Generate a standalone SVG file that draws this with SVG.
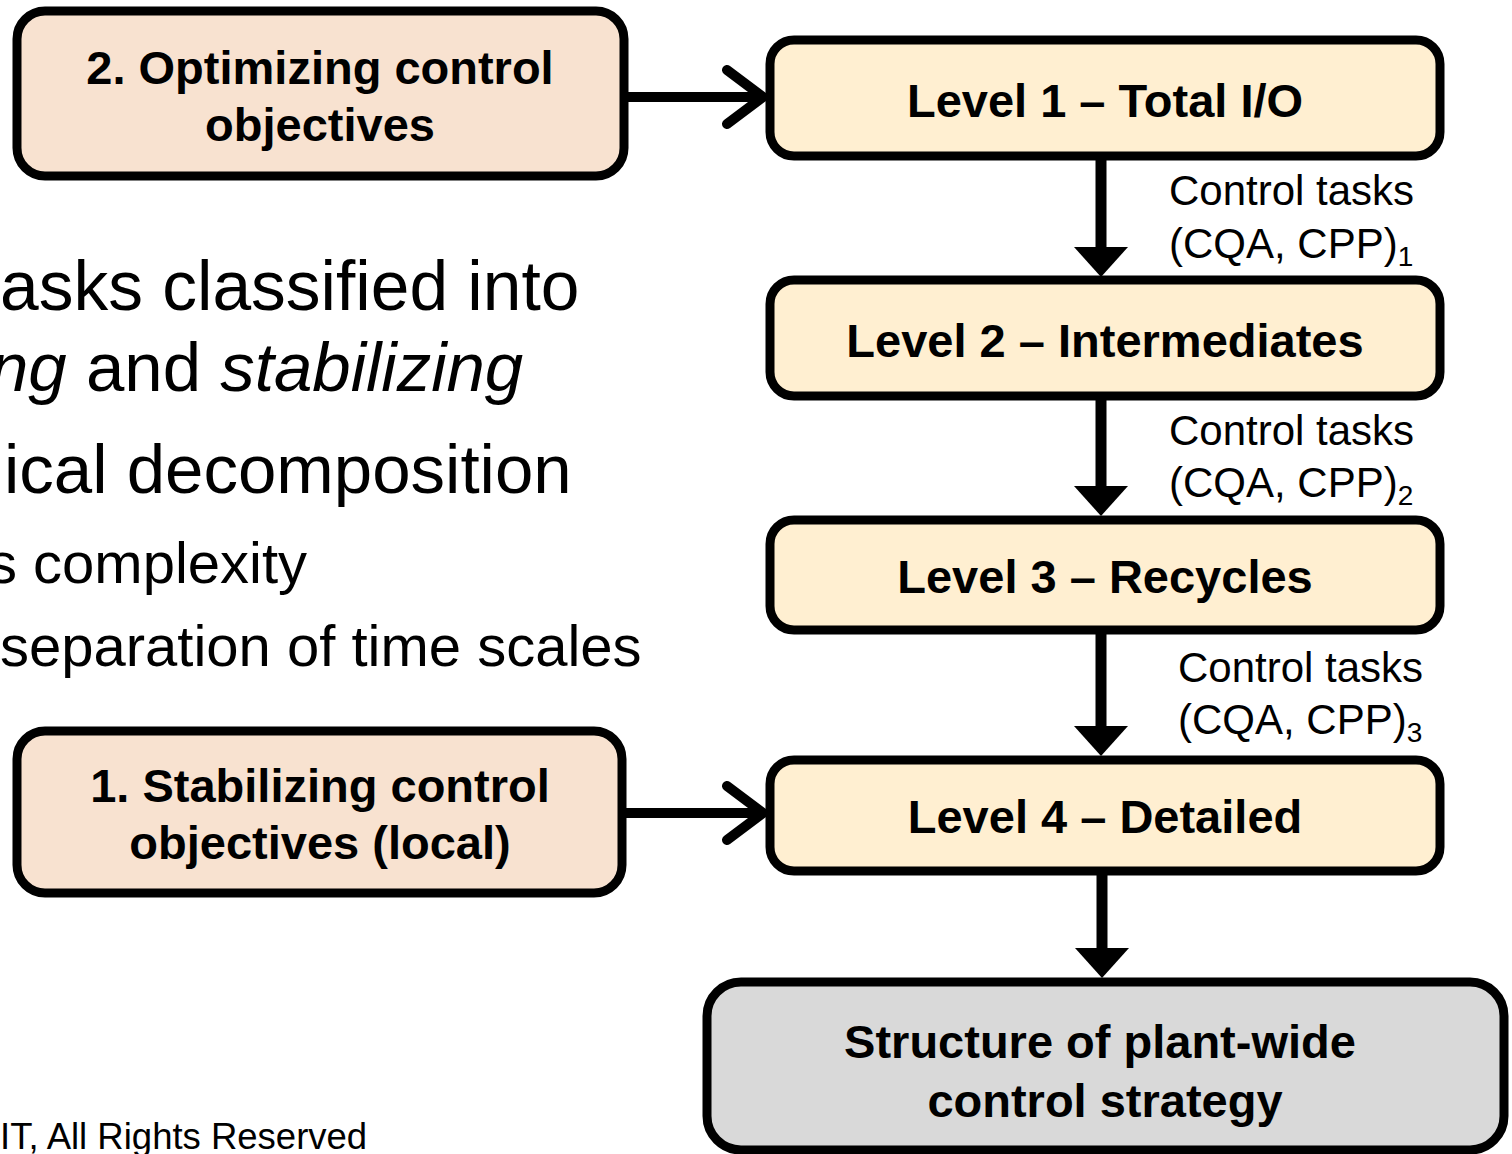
<svg xmlns="http://www.w3.org/2000/svg" width="1512" height="1154" viewBox="0 0 1512 1154">
  <style>
    .box { stroke: #000; stroke-width: 9; }
    .obj { fill: #F8E2D0; }
    .lvl { fill: #FFEFD1; }
    .out { fill: #D9D9D9; }
    .bold { font-family: "Liberation Sans", Arial, sans-serif; font-weight: bold; font-size: 47px; fill: #000; text-anchor: middle; }
    .lbl { font-family: "Liberation Sans", Arial, sans-serif; font-size: 42px; fill: #000; }
    .sub { font-size: 28px; }
    .body { font-family: "Liberation Sans", Arial, sans-serif; fill: #000; }
    .edge { stroke: #000; stroke-width: 11; fill: none; }
    .feed { stroke: #000; stroke-width: 10; fill: none; }
  </style>
  <defs>
    <marker id="tri" markerUnits="userSpaceOnUse" markerWidth="30" markerHeight="54" viewBox="0 0 30 54" refX="0" refY="27" orient="auto" overflow="visible">
      <path d="M0,0 L30,27 L0,54 Z" fill="#000"/>
    </marker>
    <marker id="chev" markerUnits="userSpaceOnUse" markerWidth="1" markerHeight="1" refX="0" refY="0" orient="auto" overflow="visible">
      <path d="M-33,-27 L3,0 L-33,27" fill="none" stroke="#000" stroke-width="10" stroke-linecap="round" stroke-linejoin="round"/>
    </marker>
  </defs>

  <!-- body text on the left, running off the left edge of the page -->
  <g id="bullets" class="body">
    <text x="0" y="310" font-size="69.5">asks classified into</text>
    <text x="-10" y="391" font-size="69"><tspan font-style="italic">ng</tspan> and <tspan font-style="italic">stabilizing</tspan></text>
    <text x="4" y="493" font-size="69">ical decomposition</text>
    <text x="-12" y="583" font-size="58">s complexity</text>
    <text x="0" y="666" font-size="58">separation of time scales</text>
    <text x="0" y="1149" font-size="36.5">IT, All Rights Reserved</text>
  </g>

  <!-- connectors -->
  <g id="connectors">
    <line class="feed" x1="626" y1="97" x2="760" y2="97" marker-end="url(#chev)"/>
    <line class="feed" x1="626" y1="813" x2="760" y2="813" marker-end="url(#chev)"/>
    <line class="edge" x1="1101" y1="160" x2="1101" y2="247" marker-end="url(#tri)"/>
    <line class="edge" x1="1101" y1="400" x2="1101" y2="486" marker-end="url(#tri)"/>
    <line class="edge" x1="1101" y1="634" x2="1101" y2="726" marker-end="url(#tri)"/>
    <line class="edge" x1="1102" y1="875" x2="1102" y2="948" marker-end="url(#tri)"/>
  </g>

  <!-- edge labels -->
  <g id="labels" class="lbl">
    <text x="1169" y="205">Control tasks</text>
    <text x="1169" y="258">(CQA, CPP)<tspan class="sub" dy="8">1</tspan></text>
    <text x="1169" y="445">Control tasks</text>
    <text x="1169" y="497">(CQA, CPP)<tspan class="sub" dy="8">2</tspan></text>
    <text x="1178" y="682">Control tasks</text>
    <text x="1178" y="734">(CQA, CPP)<tspan class="sub" dy="8">3</tspan></text>
  </g>

  <g id="optimizing">
    <rect class="box obj" x="17" y="11" width="607" height="165" rx="28"/>
    <text class="bold" x="320" y="84">2. Optimizing control</text>
    <text class="bold" x="320" y="141">objectives</text>
  </g>

  <g id="stabilizing">
    <rect class="box obj" x="17" y="731" width="605" height="162" rx="28"/>
    <text class="bold" x="320" y="802">1. Stabilizing control</text>
    <text class="bold" x="320" y="859">objectives (local)</text>
  </g>

  <g id="level1">
    <rect class="box lvl" x="770" y="40" width="670" height="116" rx="24"/>
    <text class="bold" x="1105" y="117">Level 1 – Total I/O</text>
  </g>

  <g id="level2">
    <rect class="box lvl" x="770" y="280" width="670" height="116" rx="24"/>
    <text class="bold" x="1105" y="357">Level 2 – Intermediates</text>
  </g>

  <g id="level3">
    <rect class="box lvl" x="770" y="520" width="670" height="110" rx="24"/>
    <text class="bold" x="1105" y="593">Level 3 – Recycles</text>
  </g>

  <g id="level4">
    <rect class="box lvl" x="770" y="760" width="670" height="111" rx="24"/>
    <text class="bold" x="1105" y="833">Level 4 – Detailed</text>
  </g>

  <g id="strategy">
    <rect class="box out" x="707" y="982" width="797" height="168" rx="34"/>
    <text class="bold" x="1100" y="1058">Structure of plant-wide</text>
    <text class="bold" x="1105" y="1117">control strategy</text>
  </g>
</svg>
